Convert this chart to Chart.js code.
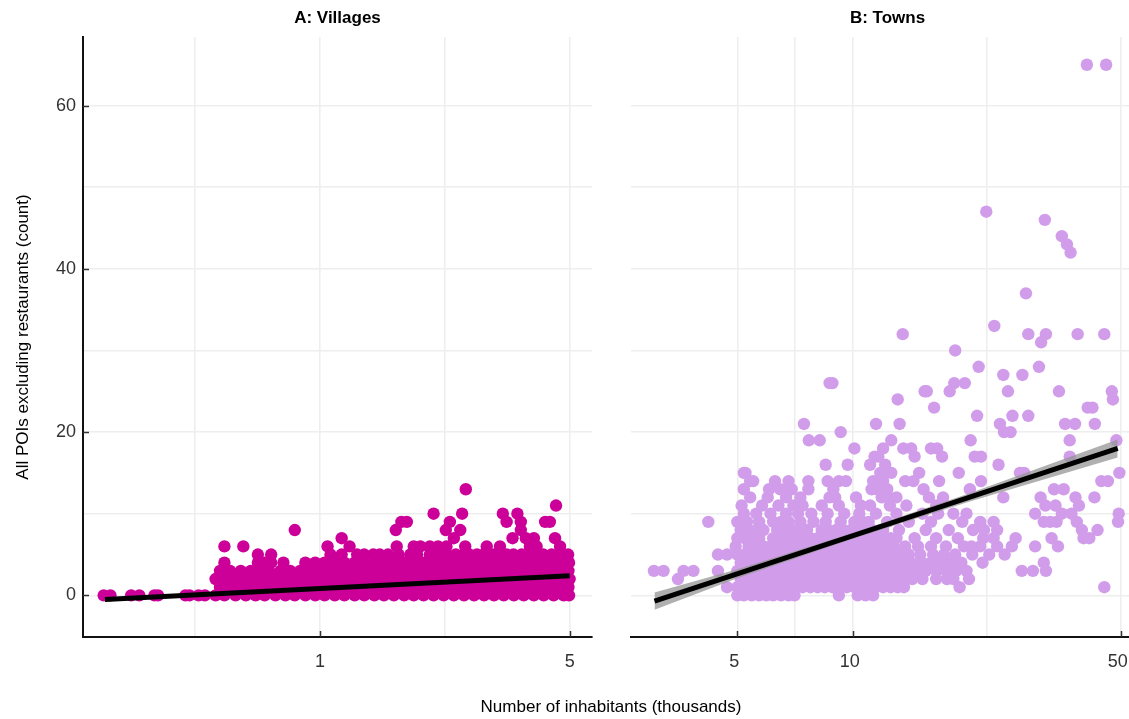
<!DOCTYPE html>
<html>
<head>
<meta charset="utf-8">
<script src="https://cdn.jsdelivr.net/npm/chart.js@4.4.1/dist/chart.umd.min.js"></script>
<style>
  body { margin: 0; background: #fff; }
  #wrap { position: relative; width: 1129px; height: 719px; overflow: hidden; }
  #villages { position: absolute; left: 0; top: 0; }
  #towns { position: absolute; left: 600px; top: 0; }
  #xtitle {
    position: absolute; left: 411px; width: 400px; top: 697px;
    text-align: center; font: 17px "Liberation Sans", Arial, sans-serif; line-height: 20px; color: #000;
  }
</style>
</head>
<body>
<div id="wrap">
  <canvas id="villages" width="600" height="719"></canvas>
  <canvas id="towns" width="560" height="719"></canvas>
  <div id="xtitle">Number of inhabitants (thousands)</div>
</div>
<script>
// values: [POI count, [inhabitants in thousands, ...]]
const villageRows = [
  [0, [0.248, 0.259, 0.296, 0.312, 0.344, 0.352, 0.420, 0.431, 0.457, 0.476,
       0.51, 0.54, 0.58, 0.62, 0.66, 0.70, 0.75, 0.80, 0.85, 0.91, 0.97, 1.03, 1.10, 1.17, 1.25, 1.33, 1.42, 1.51,
       1.61, 1.72, 1.83, 1.95, 2.08, 2.22, 2.37, 2.53, 2.70, 2.88, 3.07, 3.27, 3.49, 3.72, 3.97, 4.23, 4.51, 4.81, 4.98]],
  [1, [0.525, 0.56, 0.60, 0.64, 0.68, 0.72, 0.775, 0.825, 0.88, 0.94, 1.0, 1.065, 1.135, 1.21, 1.29, 1.37, 1.465,
       1.56, 1.66, 1.775, 1.89, 2.01, 2.145, 2.29, 2.445, 2.61, 2.785, 2.97, 3.17, 3.375, 3.60, 3.84, 4.10, 4.365,
       4.655, 4.96]],
  [2, [0.51, 0.54, 0.58, 0.62, 0.66, 0.70, 0.75, 0.80, 0.85, 0.91, 0.97, 1.03, 1.10, 1.17, 1.25, 1.33, 1.42, 1.51,
       1.61, 1.72, 1.83, 1.95, 2.08, 2.22, 2.37, 2.53, 2.70, 2.88, 3.07, 3.27, 3.49, 3.72, 3.97, 4.23, 4.51, 4.81, 5.0]],
  [3, [0.525, 0.56, 0.60, 0.64, 0.68, 0.72, 0.775, 0.825, 0.88, 0.94, 1.0, 1.065, 1.135, 1.21, 1.29, 1.37, 1.465,
       1.56, 1.66, 1.775, 1.89, 2.01, 2.145, 2.29, 2.445, 2.61, 2.785, 2.97, 3.17, 3.375, 3.60, 3.84, 4.10, 4.365,
       4.655, 4.96]],
  [4, [0.54, 0.67, 0.70, 0.73, 0.79, 0.91, 0.97, 1.03, 1.10, 1.17, 1.25, 1.33, 1.42, 1.51, 1.61, 1.72, 1.83, 1.95,
       2.08, 2.22, 2.37, 2.53, 2.70, 2.88, 3.07, 3.27, 3.49, 3.72, 3.97, 4.23, 4.51, 4.81, 4.98]],
  [5, [0.67, 0.73, 1.07, 1.15, 1.27, 1.33, 1.41, 1.47, 1.55, 1.66, 1.79, 1.87, 2.03, 2.12, 2.26, 2.40, 2.52, 2.62,
       2.75, 2.87, 3.05, 3.19, 3.33, 3.48, 3.67, 3.91, 4.05, 4.22, 4.45, 4.65, 4.80, 4.95]],
  [6, [0.54, 0.61, 1.05, 1.21, 1.64, 1.83, 1.91, 2.03, 2.14, 2.26, 2.55, 2.93, 3.19, 3.87, 4.04, 4.70]],
  [7, [1.15, 2.37, 3.46, 3.77, 3.97, 4.55]],
  [8, [0.85, 1.63, 2.25, 2.47, 3.65]],
  [9, [1.69, 1.75, 2.31, 3.33, 3.65, 4.27, 4.40]],
  [10, [2.08, 2.50, 3.25, 3.57]],
  [11, [4.58]],
  [13, [2.56]]
];

const townRows = [
  [0, [5.0, 5.2, 5.45, 5.7, 5.95, 6.2, 6.5, 6.8, 7.05, 9.2, 10.3, 10.8, 11.3]],
  [1, [4.7, 5.0, 5.22, 5.45, 5.7, 5.95, 6.2, 6.5, 6.8, 7.1, 7.4, 7.75, 8.1, 8.45, 8.85, 9.25, 9.65, 10.1, 10.55,
       11.0, 11.5, 12.0, 12.55, 13.1, 13.6, 19.0, 45.3]],
  [2, [3.5, 5.1, 5.35, 5.6, 5.85, 6.1, 6.35, 6.65, 6.95, 7.25, 7.6, 7.9, 8.3, 8.65, 9.05, 9.45, 9.9, 10.3, 10.8,
       11.25, 11.75, 12.3, 12.8, 13.4, 14.3, 15.2, 16.5, 17.6, 18.3, 20.1]],
  [3, [3.03, 3.21, 3.62, 3.84, 4.45, 5.0, 5.22, 5.45, 5.7, 5.95, 6.2, 6.5, 6.8, 7.1, 7.4, 7.75, 8.1, 8.45, 8.85,
       9.25, 9.65, 10.1, 10.55, 11.0, 11.5, 12.0, 12.55, 13.1, 13.8, 14.6, 15.5, 16.5, 17.5, 18.6, 19.8, 27.6, 29.5, 31.9]],
  [4, [5.1, 5.35, 5.6, 5.85, 6.1, 6.35, 6.65, 6.95, 7.25, 7.6, 7.9, 8.3, 8.65, 9.05, 9.45, 9.9, 10.3, 10.8, 11.25,
       11.75, 12.3, 12.8, 13.4, 14.2, 15.1, 16.0, 17.0, 18.1, 19.2, 21.8, 31.5]],
  [5, [4.45, 4.7, 5.0, 5.22, 5.45, 5.7, 5.95, 6.2, 6.5, 6.8, 7.1, 7.4, 7.75, 8.1, 8.45, 8.85, 9.25, 9.65, 10.1,
       10.55, 11.0, 11.5, 12.0, 12.55, 13.1, 14.0, 15.0, 16.2, 17.3, 18.5, 20.5, 22.7, 24.9]],
  [6, [4.95, 5.35, 5.6, 5.85, 6.1, 6.35, 6.65, 6.95, 7.25, 7.6, 7.9, 8.3, 8.65, 9.05, 9.45, 9.9, 10.3, 10.8, 11.25,
       11.75, 12.3, 12.8, 13.7, 14.8, 16.0, 17.5, 19.5, 20.4, 21.5, 23.8, 26.0, 29.9, 34.3]],
  [7, [5.0, 5.22, 5.45, 5.7, 6.2, 6.5, 6.8, 7.1, 7.4, 7.75, 8.1, 8.45, 8.85, 9.25, 9.65, 10.1, 10.55, 11.0, 11.5,
       12.0, 12.55, 13.0, 14.5, 16.5, 18.8, 21.9, 23.3, 26.6, 33.0, 40.0, 41.4]],
  [8, [5.1, 5.35, 5.6, 5.85, 6.35, 6.65, 6.95, 7.25, 7.6, 8.3, 8.65, 9.05, 9.45, 9.9, 10.3, 10.8, 11.25, 12.0,
       13.2, 15.5, 17.8, 20.6, 22.0, 23.8, 39.6, 43.5]],
  [9, [4.2, 5.0, 5.3, 5.7, 6.2, 6.5, 6.8, 7.3, 7.9, 8.5, 9.3, 10.1, 10.6, 11.0, 12.3, 14.0, 16.0, 19.3, 21.5, 23.3,
       31.5, 32.7, 34.0, 38.4, 49.2]],
  [10, [5.2, 5.6, 6.1, 6.7, 7.2, 7.8, 8.6, 9.5, 10.4, 11.5, 13.0, 15.2, 16.7, 18.3, 19.8, 29.9, 35.1, 37.2, 49.4]],
  [11, [5.13, 5.8, 6.4, 7.0, 7.4, 8.3, 9.2, 10.5, 11.1, 12.5, 13.8, 16.5, 31.8, 33.8, 38.9]],
  [12, [5.4, 6.0, 6.7, 7.3, 8.7, 9.0, 10.2, 11.9, 12.4, 13.0, 15.8, 17.2, 24.7, 30.9, 38.1, 42.7]],
  [13, [5.2, 6.05, 6.47, 6.93, 7.66, 8.9, 11.2, 11.6, 12.3, 15.3, 20.2, 33.5, 35.5]],
  [14, [5.4, 5.5, 6.27, 6.8, 7.66, 8.6, 9.2, 9.6, 11.3, 12.0, 13.7, 14.4, 16.8, 21.6, 44.5, 46.3]],
  [15, [5.2, 5.25, 11.8, 12.6, 14.9, 18.9, 27.3, 28.0, 49.6]],
  [16, [8.5, 9.7, 11.1, 12.15, 24.0]],
  [17, [11.4, 11.66, 14.5, 17.1, 20.8, 21.6, 36.8]],
  [18, [10.1, 12.0, 13.55, 14.2, 16.0, 16.6]],
  [19, [7.68, 8.2, 12.6, 20.3, 36.8, 48.7]],
  [20, [9.3, 24.8, 25.8]],
  [21, [7.46, 11.5, 13.25, 24.2, 35.8, 38.0, 42.8]],
  [22, [21.1, 26.1, 28.7]],
  [23, [16.3, 41.0, 42.2]],
  [24, [13.1, 47.7]],
  [25, [15.4, 15.6, 17.9, 25.4, 34.5, 47.4]],
  [26, [8.7, 8.85, 18.4, 19.6]],
  [27, [24.7, 27.7]],
  [28, [21.3, 30.6]],
  [30, [18.5]],
  [31, [31.0]],
  [32, [13.5, 28.7, 31.9, 38.6, 45.3]],
  [33, [23.4]],
  [37, [28.3]],
  [42, [37.0]],
  [43, [36.2]],
  [44, [35.1]],
  [46, [31.7]],
  [47, [22.3]],
  [65, [40.8, 45.8]]
];

// fitted lines (and confidence band for towns)
const villageFitPop = [0.25, 5.0];
const villageFitPoi = [-0.5, 2.4];
const townFitPop = [3.04, 49.1];
const townFitPoi = [-0.7, 18.0];
const townBandPop = [3.04, 5, 10, 20, 49.1];
const townBandLow = [-1.75, 2.1, 6.95, 11.45, 16.9];
const townBandHigh = [0.35, 3.2, 7.65, 12.45, 19.1];

// axis ticks / grid
const villageTicks = [1, 5];
const villageGrid = [0.447, 1, 2.236, 5];
const townTicks = [5, 10, 50];
const townGrid = [5, 7.07, 10, 22.36, 50];
const poiTicks = [0, 20, 40, 60];
const poiGrid = [0, 10, 20, 30, 40, 50, 60];

const FONT = '"Liberation Sans", Arial, sans-serif';
Chart.defaults.font.family = FONT;

const toPoints = rows => rows.flatMap(([poi, pops]) => pops.map(p => ({ x: p, y: poi })));
const zip = (xs, ys) => xs.map((x, i) => ({ x: x, y: ys[i] }));

const GRID = '#eeeeee';
const LABEL = '#333333';

const panelDecor = {
  id: 'panelDecor',
  afterDraw(chart, args, opts) {
    const { ctx, chartArea: a, scales } = chart;
    ctx.save();
    ctx.strokeStyle = '#333';
    ctx.lineWidth = 1.5;
    ctx.beginPath();
    opts.xMajor.forEach(v => {
      const px = Math.round(scales.x.getPixelForValue(v)) + 0.5;
      ctx.moveTo(px, a.bottom);
      ctx.lineTo(px, a.bottom - 6);
    });
    (opts.yMajor || []).forEach(v => {
      const py = Math.round(scales.y.getPixelForValue(v)) + 0.5;
      ctx.moveTo(a.left, py);
      ctx.lineTo(a.left + 6, py);
    });
    ctx.stroke();
    ctx.fillStyle = '#000';
    ctx.font = 'bold 17px ' + FONT;
    ctx.textAlign = 'center';
    ctx.textBaseline = 'middle';
    ctx.fillText(opts.title, (a.left + a.right) / 2, 18);
    ctx.restore();
  }
};

function xScale(min, max, grid, major, shift) {
  return {
    type: 'logarithmic',
    min: min, max: max,
    afterBuildTicks: s => { s.ticks = grid.map(v => ({ value: v })); },
    afterFit: s => { s.height = 82; },
    ticks: {
      autoSkip: false, maxRotation: 0, padding: 14, labelOffset: shift || 0,
      font: { size: 18 }, color: LABEL,
      callback: v => major.includes(v) ? String(v) : ''
    },
    grid: { color: GRID, lineWidth: 1.6, drawTicks: false },
    border: { display: true, color: '#111', width: 2 }
  };
}

function yScale(showAxis, width) {
  return {
    type: 'linear',
    min: -5.1, max: 68.4,
    afterBuildTicks: s => { s.ticks = poiGrid.map(v => ({ value: v })); },
    afterFit: s => { s.width = width; },
    ticks: {
      display: showAxis, autoSkip: false, padding: 7,
      font: { size: 18 }, color: LABEL,
      callback: v => poiTicks.includes(v) ? String(v) : ''
    },
    title: {
      display: showAxis, text: 'All POIs excluding restaurants (count)',
      font: { size: 17 }, color: '#000', padding: { top: 13, bottom: 0 }
    },
    grid: { color: GRID, lineWidth: 1.6, drawTicks: false },
    border: { display: showAxis, color: '#111', width: 2 }
  };
}

const commonPlugins = { legend: { display: false }, tooltip: { enabled: false }, title: { display: false } };

new Chart(document.getElementById('villages'), {
  type: 'scatter',
  data: {
    datasets: [
      {
        data: zip(villageFitPop, villageFitPoi), showLine: true,
        borderColor: '#000', borderWidth: 5, pointRadius: 0, order: 0
      },
      {
        data: toPoints(villageRows), backgroundColor: '#cc0099', borderColor: '#cc0099',
        pointRadius: 6.2, pointBorderWidth: 0, order: 1
      }
    ]
  },
  options: {
    responsive: false, animation: false,
    layout: { padding: { top: 37, right: 8, left: 0, bottom: 0 } },
    scales: { x: xScale(0.217, 5.775, villageGrid, villageTicks), y: yScale(true, 83) },
    plugins: Object.assign({}, commonPlugins, {
      panelDecor: { title: 'A: Villages', xMajor: villageTicks, yMajor: poiTicks }
    })
  },
  plugins: [panelDecor]
});

// towns panel: plotting range runs past the window's right edge (cropped like the reference)
new Chart(document.getElementById('towns'), {
  type: 'scatter',
  data: {
    datasets: [
      {
        data: zip(townFitPop, townFitPoi), showLine: true,
        borderColor: '#000', borderWidth: 5, pointRadius: 0, order: 0
      },
      {
        data: zip(townBandPop, townBandHigh), showLine: true, fill: '+1',
        backgroundColor: 'rgba(150,150,150,0.75)', borderWidth: 0, pointRadius: 0, order: 1
      },
      {
        data: zip(townBandPop, townBandLow), showLine: true,
        borderWidth: 0, pointRadius: 0, order: 2
      },
      {
        data: toPoints(townRows), backgroundColor: '#d19dea', borderColor: '#d19dea',
        pointRadius: 6.2, pointBorderWidth: 0, order: 3
      }
    ]
  },
  options: {
    responsive: false, animation: false,
    layout: { padding: { top: 37, right: 16, left: 0, bottom: 0 } },
    scales: { x: xScale(2.64, 57.5, townGrid, townTicks, -3), y: yScale(false, 31) },
    plugins: Object.assign({}, commonPlugins, {
      panelDecor: { title: 'B: Towns', xMajor: townTicks }
    })
  },
  plugins: [panelDecor]
});
</script>
</body>
</html>
